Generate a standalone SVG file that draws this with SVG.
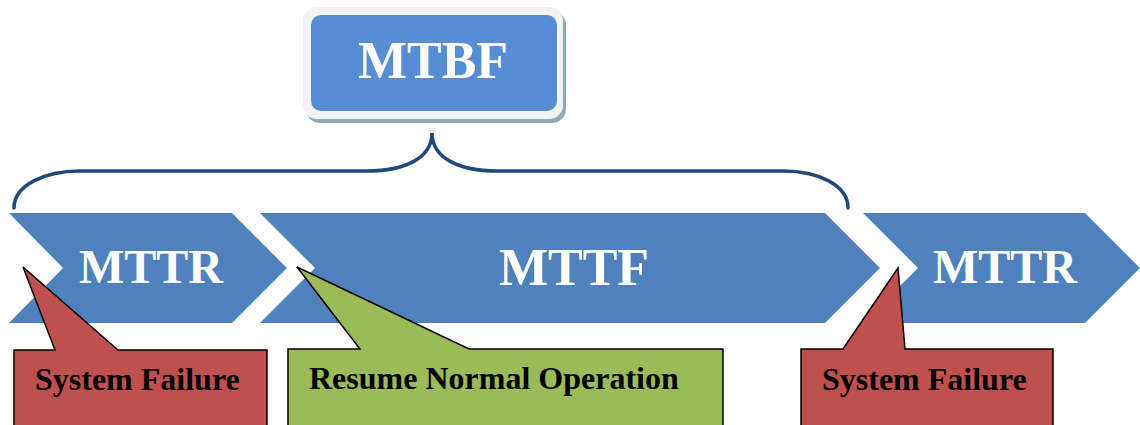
<svg xmlns="http://www.w3.org/2000/svg" width="1140" height="425" viewBox="0 0 1140 425">
<style>
.chev{fill:#4F81BD}
.big{font-family:"Liberation Serif","Times New Roman",serif;font-weight:bold;fill:#FFFFFF;text-anchor:middle}
.call{stroke:#000000;stroke-width:1.5;stroke-linejoin:miter}
.red{fill:#C0504D}
.green{fill:#9BBB59}
.lbl{font-family:"Liberation Serif","Times New Roman",serif;font-weight:bold;font-size:32px;fill:#000000}
.brace{fill:none;stroke:#1F497D;stroke-width:3.5;stroke-linecap:round}
</style>
<rect width="1140" height="425" fill="#FFFFFF"/>
<g id="mtbf">
<rect x="306" y="11" width="260" height="112" rx="14" fill="#93AAB6"/>
<rect x="303" y="7" width="260" height="112" rx="14" fill="#F2F2F2"/>
<rect x="311" y="15" width="246" height="96" rx="10" fill="#558ED5"/>
<text class="big" x="433" y="78" font-size="52">MTBF</text>
</g>
<g id="connectors">
<path class="brace" d="M14,208 C14,185 45,171 80,171 L367,171 C405,171 432,158 432,133 C432,158 459,171 497,171 L783,171 C818,171 848,185 848,208"/>
</g>
<g id="mttr1">
<polygon class="chev" points="9,213 232,213 287,268 232,323 9,323 63,268"/>
<text class="big" x="151" y="283" font-size="48">MTTR</text>
</g>
<g id="mttf">
<polygon class="chev" points="260,213 825,213 880,268 825,323 260,323 315,268"/>
<text class="big" x="574" y="285" font-size="52">MTTF</text>
</g>
<g id="mttr2">
<polygon class="chev" points="863,213 1085,213 1140,268 1085,323 863,323 918,268"/>
<text class="big" x="1005" y="283" font-size="48">MTTR</text>
</g>
<g id="callout1">
<path class="call red" d="M14,350 L55,350 L23,267 L118,350 L267,350 L267,430 L14,430 Z"/>
<text class="lbl" x="35" y="390">System Failure</text>
</g>
<g id="callout2">
<path class="call green" d="M288,349 L360,349 L297,267 L469,349 L723,349 L723,430 L288,430 Z"/>
<text class="lbl" x="309" y="389">Resume Normal Operation</text>
</g>
<g id="callout3">
<path class="call red" d="M801,349 L843,349 L898,268 L905,349 L1053,349 L1053,430 L801,430 Z"/>
<text class="lbl" x="822" y="390">System Failure</text>
</g>
</svg>
